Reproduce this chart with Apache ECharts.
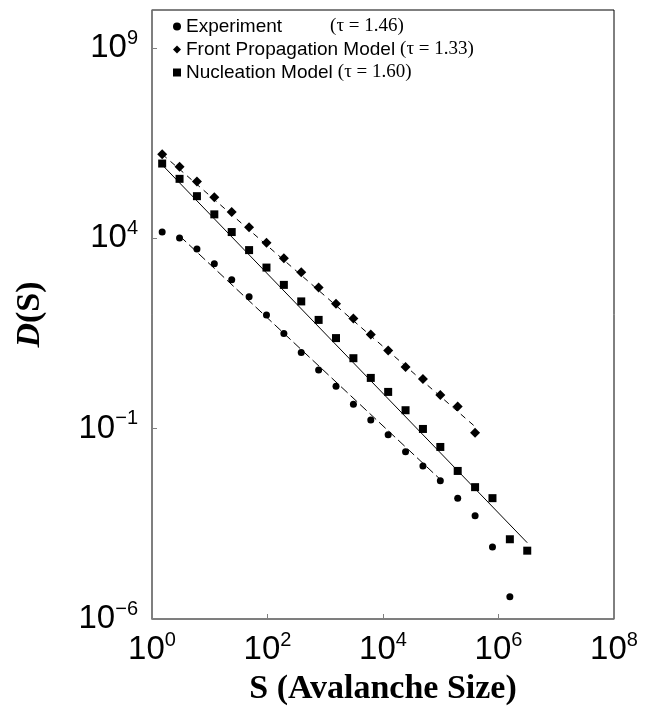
<!DOCTYPE html>
<html><head><meta charset="utf-8">
<script src="https://cdn.jsdelivr.net/npm/echarts@6/dist/echarts.min.js"></script>
<style>html,body{margin:0;padding:0;background:#fff}#c{width:649px;height:706px}</style>
</head><body><div id="c"></div>
<script>
// Avalanche sizes S (bin centres)
const sizes = [1.5, 3, 6, 12, 24, 48, 96, 192, 384, 768, 1536, 3072, 6144, 12288, 24576, 49152, 98304, 196608, 393216, 786432, 1572864, 3145728];
// D(S) values
const experiment = [14660, 10300, 5236, 2163, 822, 293.8, 96.4, 31.48, 10.09, 3.459, 1.306, 0.4395, 0.1698, 0.0698, 0.02495, 0.0105, 0.004315, 0.001496, 0.000519, 0.000078, 0.000003855];
const front = [1633000, 757000, 311000, 121100, 49660, 19680, 7621, 3020, 1294, 509.3, 192.3, 79.07, 29.65, 11.25, 4.198, 2.028, 0.771, 0.380, 0.0787];
const nucleation = [925000, 366400, 128500, 42760, 14660, 4920, 1710, 600, 220.8, 72.1, 23.99, 7.11, 2.158, 0.925, 0.3055, 0.0984, 0.0331, 0.00776, 0.00291, 0.001496, 0.0001245, 0.0000624];
// fitted power-law lines: [S, D] end points
const expFit = [[3, 11640], [98304, 0.004634]];
const frontFit = [[1.5, 1633000], [393216, 0.1132]];
const nuclFit = [[1.5, 855000], [3145728, 0.000101]];
const seriesNames = ['Experiment', 'Front Propagation Model', 'Nucleation Model'];
const tauLabels = ['(τ = 1.46)', '(τ = 1.33)', '(τ = 1.60)'];

function pairs(vals) { return vals.map((v, i) => [sizes[i], v]); }
function expLabel(v) {
  const e = Math.round(Math.log10(v));
  return '{b|10}{s|' + String(e).replace('-', '\u2212') + '}';
}
const labelRich = {
  b: { fontFamily: 'Liberation Sans', fontSize: 33, color: '#000' },
  s: { fontFamily: 'Liberation Sans', fontSize: 20, color: '#000', padding: [0, 0, 20, 0] }
};
const tauStyle = (p) => ({ fontFamily: 'Liberation Serif', fontSize: 19, color: '#000', lineHeight: 21, padding: [0, 0, 0, p] });
const chart = echarts.init(document.getElementById('c'), null, { renderer: 'canvas' });
chart.setOption({
  animation: false,
  backgroundColor: '#fff',
  grid: { left: 152, right: 35, top: 10, bottom: 87, outerBoundsMode: 'none', containLabel: false,
          show: true, borderColor: '#000', borderWidth: 1 },
  xAxis: {
    type: 'log', logBase: 10, min: 1, max: 1e8, interval: 2,
    axisLine: { show: true, lineStyle: { color: '#7f7f7f', width: 1.5 } },
    axisTick: { show: true, inside: true, length: 5, lineStyle: { color: '#7f7f7f' } },
    splitLine: { show: false },
    axisLabel: { margin: 11, formatter: expLabel, rich: labelRich },
    name: 'S (Avalanche Size)', nameLocation: 'middle', nameGap: 53,
    nameTextStyle: { fontFamily: 'Liberation Serif', fontWeight: 'bold', fontSize: 34, color: '#000' }
  },
  yAxis: {
    type: 'log', logBase: 10, min: 1e-6, max: 1e10, interval: 5,
    axisLine: { show: true, lineStyle: { color: '#7f7f7f', width: 1.5 } },
    axisTick: { show: true, inside: true, length: 5, lineStyle: { color: '#7f7f7f' } },
    splitLine: { show: false },
    axisLabel: { margin: 14, showMaxLabel: false, formatter: expLabel, rich: labelRich },
    name: '{i|D}{n|(S)}', nameLocation: 'middle', nameGap: 105,
    nameTextStyle: { rich: {
      i: { fontFamily: 'Liberation Serif', fontStyle: 'italic', fontWeight: 'bold', fontSize: 34, color: '#000' },
      n: { fontFamily: 'Liberation Serif', fontWeight: 'bold', fontSize: 34, color: '#000' }
    } }
  },
  legend: {
    orient: 'vertical', left: 173, top: 17, padding: 0, itemGap: 4,
    itemWidth: 8, itemHeight: 8, data: seriesNames,
    formatter: function (name) {
      const i = seriesNames.indexOf(name);
      return '{a|' + name + '}{t' + i + '|' + tauLabels[i] + '}';
    },
    textStyle: { color: '#000', rich: {
      a: { fontFamily: 'Liberation Sans', fontSize: 19, color: '#000', lineHeight: 21 },
      t0: tauStyle(48), t1: tauStyle(5), t2: tauStyle(5)
    } }
  },
  series: [
    { name: 'Experiment', type: 'scatter', symbol: 'circle', symbolSize: 7, itemStyle: { color: '#000', opacity: 1 }, data: pairs(experiment) },
    { name: 'Front Propagation Model', type: 'scatter', symbol: 'diamond', symbolSize: 10, itemStyle: { color: '#000', opacity: 1 }, data: pairs(front) },
    { name: 'Nucleation Model', type: 'scatter', symbol: 'rect', symbolSize: 8, itemStyle: { color: '#000', opacity: 1 }, data: pairs(nucleation) },
    { name: 'fitExp', type: 'line', showSymbol: false, symbol: 'none', lineStyle: { color: '#000', width: 1, type: [9, 4] }, data: expFit, z: 1 },
    { name: 'fitFront', type: 'line', showSymbol: false, symbol: 'none', lineStyle: { color: '#000', width: 1, type: [6, 5] }, data: frontFit, z: 1 },
    { name: 'fitNucl', type: 'line', showSymbol: false, symbol: 'none', lineStyle: { color: '#000', width: 1 }, data: nuclFit, z: 1 }
  ]
});
</script>
</body></html>
